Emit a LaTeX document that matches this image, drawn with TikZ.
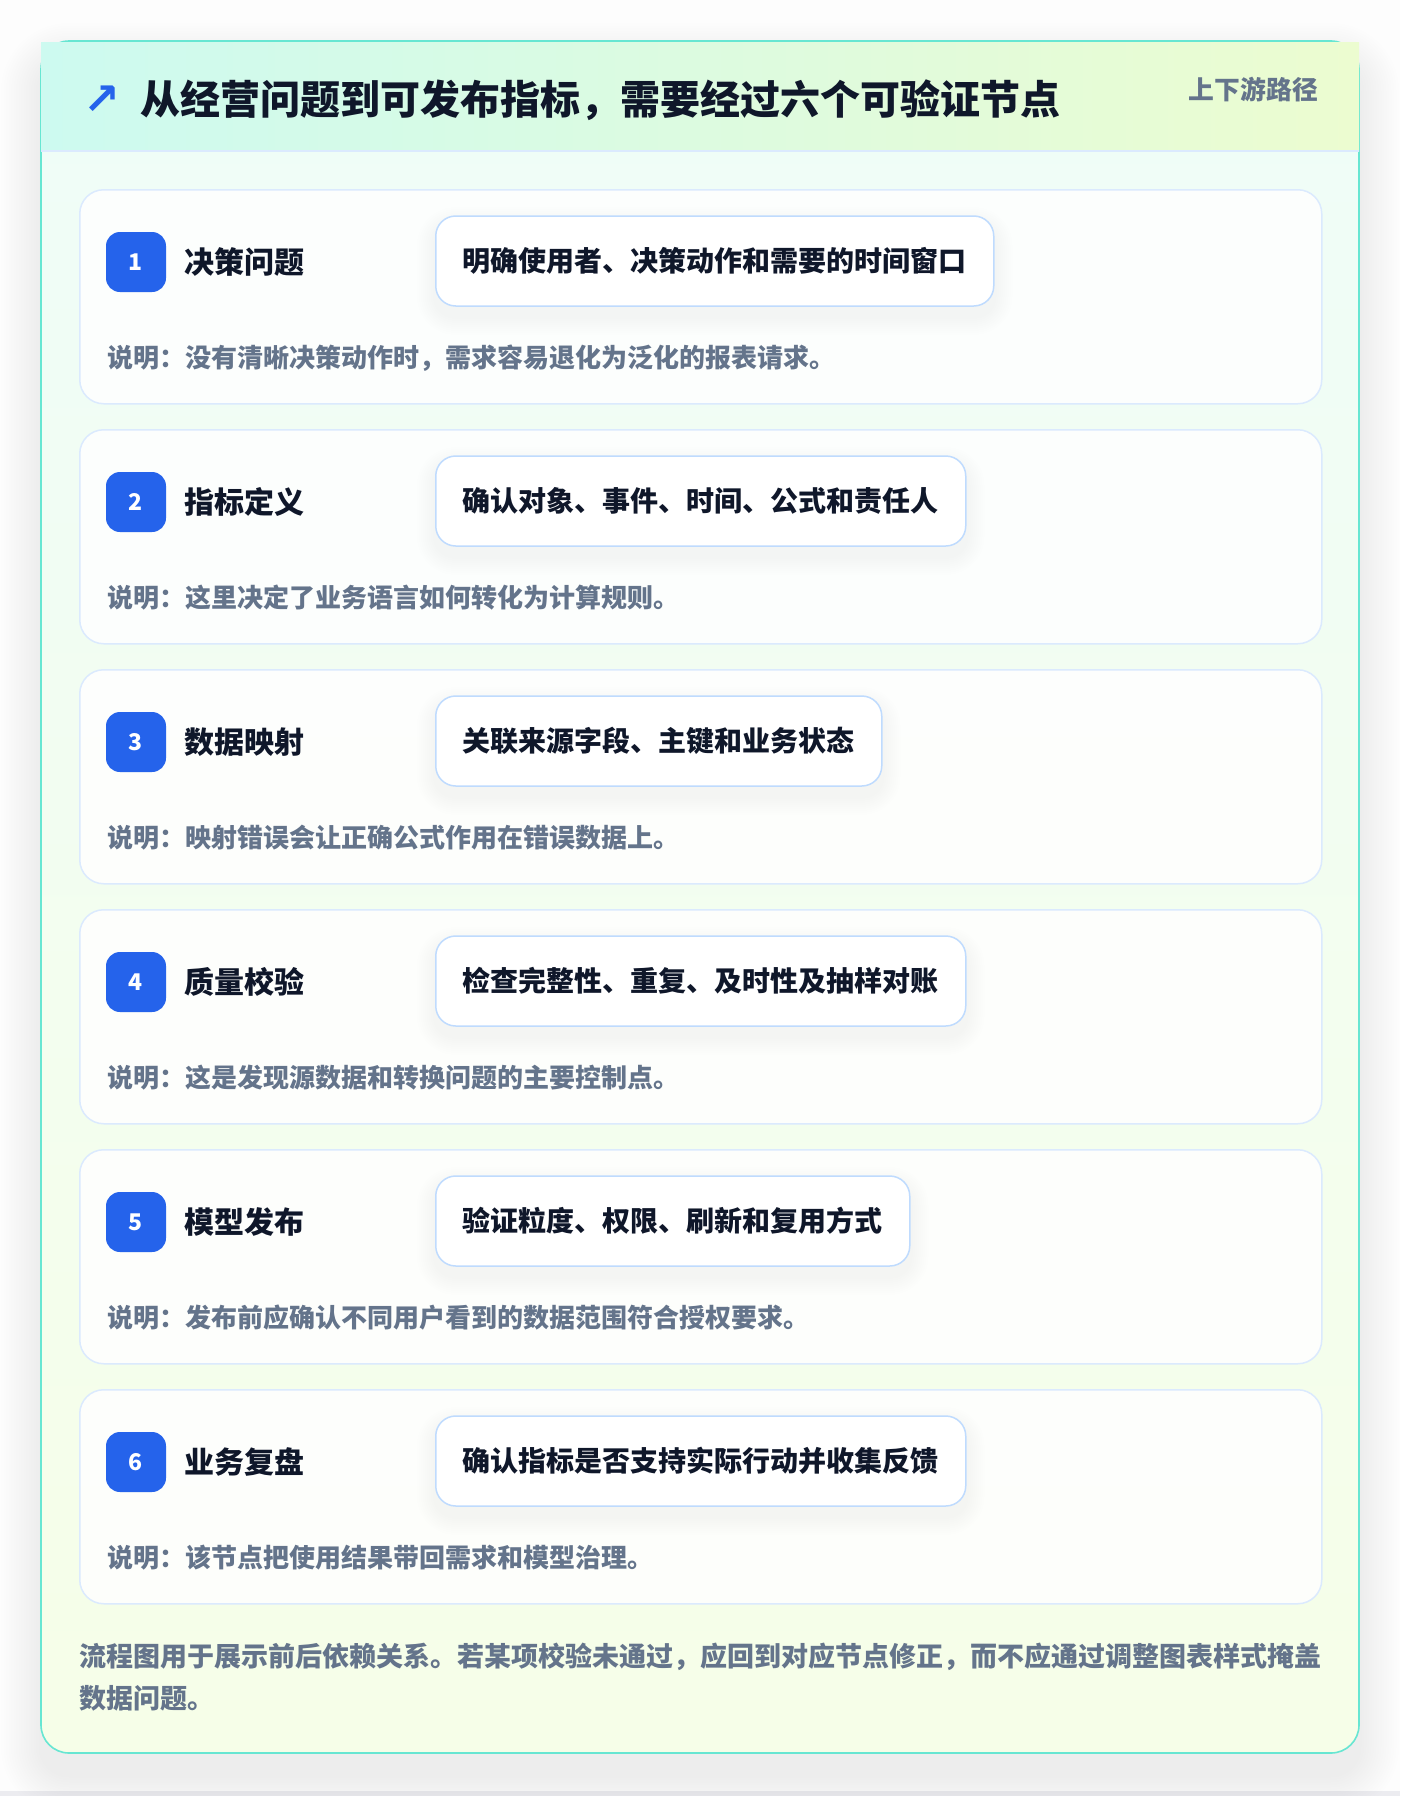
\documentclass[tikz,border=0pt]{standalone}
\usepackage{fontspec}
\setmainfont{Noto Sans CJK SC}
\newfontfamily\symf{DejaVu Sans}
\usetikzlibrary{calc}
\definecolor{pagebg}{HTML}{FDFDFD}
\definecolor{stripc}{HTML}{ECECF0}
\definecolor{bodytop}{HTML}{EFFDF8}
\definecolor{bodybot}{HTML}{F6FEE8}
\definecolor{hdrl}{HTML}{CDFAF0}
\definecolor{hdrr}{HTML}{ECFCD0}
\definecolor{sepc}{HTML}{DBEAFE}
\definecolor{tealb}{HTML}{67E6D2}
\definecolor{cardb}{HTML}{DBEAFE}
\definecolor{pillb}{HTML}{BFDBFE}
\definecolor{badgeblue}{HTML}{2563EB}
\definecolor{ink}{HTML}{0F172A}
\definecolor{muted}{HTML}{64748B}
\pgfdeclarelayer{bg}
\pgfdeclarelayer{cards}
\pgfdeclarelayer{shadows}
\pgfsetlayers{bg,cards,shadows,main}
\tikzset{
  stepcard/.style={draw=cardb, line width=1.5pt, fill=white, fill opacity=0.85, rounded corners=24pt, inner sep=0pt, minimum width=1242pt, minimum height=214pt},
  badgebox/.style={fill=badgeblue, rounded corners=14pt, minimum size=60pt, inner sep=0pt, text=white, font=\bfseries\fontsize{23}{23}\selectfont},
  steptitle/.style={inner sep=0pt, text=ink, font=\bfseries\fontsize{30}{30}\selectfont},
  pillbox/.style={draw=pillb, line width=1.5pt, fill=white, rounded corners=20pt, minimum height=90pt, inner xsep=27pt, inner ysep=0pt, text=ink, font=\bfseries\fontsize{28}{28}\selectfont},
  desctext/.style={inner sep=0pt, text=muted, font=\bfseries\fontsize{26}{26}\selectfont},
  foottext/.style={inner sep=0pt, text=muted, font=\bfseries\fontsize{27}{27}\selectfont},
  headtitle/.style={inner sep=0pt, text=ink, font=\bfseries\fontsize{40}{40}\selectfont},
  headtag/.style={inner sep=0pt, text=muted, font=\bfseries\fontsize{25.8}{26}\selectfont},
}
\begin{document}
\begin{tikzpicture}[x=1pt,y=-1pt]
\useasboundingbox (0,0) rectangle (1400,1796);
\begin{pgfonlayer}{bg}
  \fill[pagebg] (0,0) rectangle (1400,1796);
  \fill[stripc] (0,1791) rectangle (1400,1796);
  % outer card shadow
  \foreach \k in {1,...,16} {
    \pgfmathsetmacro\r{28+2.5*\k}
    \fill[black, opacity=0.0055, rounded corners=\r pt]
      (41-2.5*\k, 41-2.5*\k+22) rectangle (1359+2.5*\k, 1753+2.5*\k+22);
  }
  % card body
  \path[rounded corners=28pt, top color=bodytop, bottom color=bodybot] (41,41) rectangle (1359,1753);
  \draw[tealb, line width=1.6pt, rounded corners=28pt] (41,41) rectangle (1359,1753);
  % header band
  \fill[left color=hdrl, right color=hdrr] (41,42) rectangle (1359,151);
  \draw[sepc, line width=2pt] (41,151) -- (1359,151);
\end{pgfonlayer}

\node[inner sep=0pt, text=badgeblue, font=\symf\bfseries\fontsize{44}{44}\selectfont] (arrow) at (102,100) {↗};
\node[headtitle, anchor=west] (title) at (140,100) {从经营问题到可发布指标，需要经过六个可验证节点};
\node[headtag, anchor=east] (tag) at (1318,90) {上下游路径};

\foreach \i/\t/\p/\d [count=\n from 0] in {
  1/决策问题/明确使用者、决策动作和需要的时间窗口/没有清晰决策动作时，需求容易退化为泛化的报表请求。,
  2/指标定义/确认对象、事件、时间、公式和责任人/这里决定了业务语言如何转化为计算规则。,
  3/数据映射/关联来源字段、主键和业务状态/映射错误会让正确公式作用在错误数据上。,
  4/质量校验/检查完整性、重复、及时性及抽样对账/这是发现源数据和转换问题的主要控制点。,
  5/模型发布/验证粒度、权限、刷新和复用方式/发布前应确认不同用户看到的数据范围符合授权要求。,
  6/业务复盘/确认指标是否支持实际行动并收集反馈/该节点把使用结果带回需求和模型治理。} {
  \pgfmathsetmacro\T{189+240*\n}
  \begin{pgfonlayer}{cards}
    \node[stepcard, anchor=north west] (card\i) at (79,\T) {};
  \end{pgfonlayer}
  \node[badgebox] (badge\i) at (136,\T+73) {\i};
  \node[steptitle, anchor=west] (stitle\i) at (184,\T+73) {\t};
  \node[pillbox, anchor=west] (pill\i) at (435,\T+72) {\p};
  \begin{pgfonlayer}{shadows}
    \foreach \k in {1,...,9} {
      \pgfmathsetmacro\rr{20+2*\k}
      \fill[black, opacity=0.005, rounded corners=\rr pt]
        ($(pill\i.south west)+(-2*\k,10+2*\k)$) rectangle ($(pill\i.north east)+(2*\k,10-2*\k)$);
    }
  \end{pgfonlayer}
  \node[desctext, anchor=west] (desc\i) at (107,\T+169) {说明：\d};
}

\node[foottext, anchor=west] (foot1) at (79,1657) {流程图用于展示前后依赖关系。若某项校验未通过，应回到对应节点修正，而不应通过调整图表样式掩盖};
\node[foottext, anchor=west] (foot2) at (79,1698) {数据问题。};
\end{tikzpicture}
\end{document}
